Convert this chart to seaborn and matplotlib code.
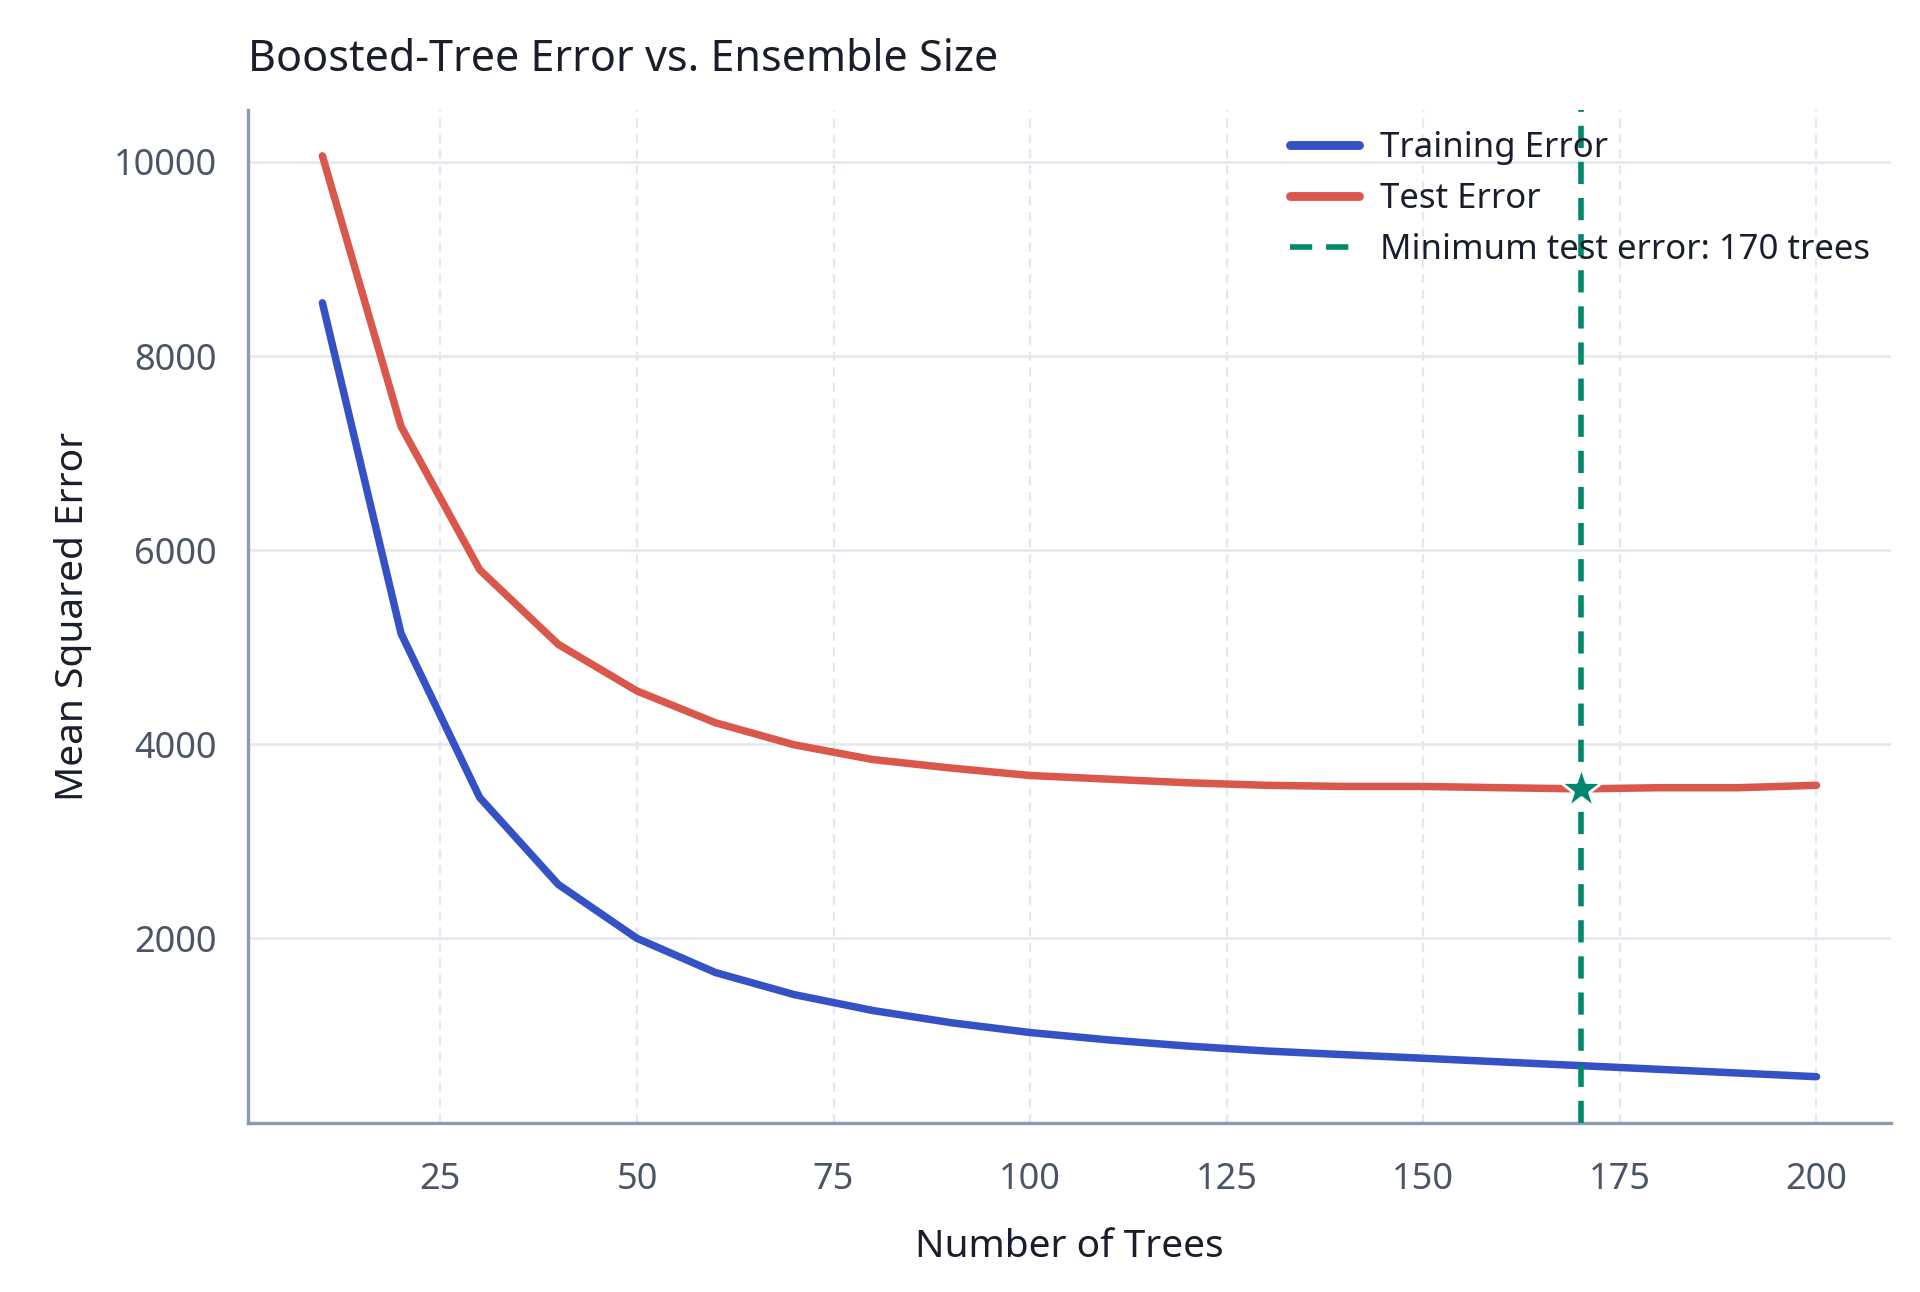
import numpy as np
import pandas as pd
import seaborn as sns
import matplotlib.pyplot as plt

# Datos
n_trees = [10, 20, 30, 40, 50, 60, 70, 80, 90, 100,
           110, 120, 130, 140, 150, 160, 170, 180, 190, 200]
train_error = [8549, 5142, 3451, 2555, 2000, 1647, 1420, 1256, 1130, 1029,
               953, 890, 839, 801, 764, 726, 688, 650, 612, 574]
test_error = [10063, 7275, 5798, 5029, 4549, 4221, 3994, 3842, 3754, 3678,
              3640, 3603, 3577, 3565, 3565, 3552, 3540, 3552, 3552, 3577]
best_trees = 170

df = pd.DataFrame({"trees": n_trees, "train": train_error, "test": test_error})

sns.set_theme(style="white")
plt.rcParams['font.family'] = ['Noto Sans', 'DejaVu Sans']

fig, ax = plt.subplots(figsize=(9.6, 6.46), dpi=200)

sns.lineplot(data=df, x="trees", y="train", ax=ax, color="#3452c6", linewidth=2.7,
             label="Training Error", solid_capstyle="round")
sns.lineplot(data=df, x="trees", y="test", ax=ax, color="#d9584b", linewidth=2.7,
             label="Test Error", solid_capstyle="round")
ax.axvline(best_trees, color="#00876c", linestyle=(0, (4, 2.5)), linewidth=2.0,
           label=f"Minimum test error: {best_trees} trees", zorder=4)
best_err = df.loc[df["trees"] == best_trees, "test"].iloc[0]
ax.plot([best_trees], [best_err], marker="*", markersize=16, color="#00876c",
        markeredgecolor="white", markeredgewidth=1.0, zorder=5)

# Rejilla: horizontal sólida, vertical discontinua
ax.grid(axis="y", color="#e3e7ee", linewidth=0.9)
ax.grid(axis="x", color="#e3e7ee", linewidth=0.8, linestyle=(0, (4, 3)))
ax.set_axisbelow(True)

ax.set_xticks([25, 50, 75, 100, 125, 150, 175, 200])
ax.set_yticks([2000, 4000, 6000, 8000, 10000])

for side in ["top", "right"]:
    ax.spines[side].set_visible(False)
for side in ["left", "bottom"]:
    ax.spines[side].set_color("#8d99b3")
    ax.spines[side].set_linewidth(1.2)

ax.tick_params(axis="x", length=6, width=0.8, color="#4a5060", labelsize=13,
               labelcolor="#4b5567", pad=8)
ax.tick_params(axis="y", length=3, width=1.0, color="#4a5060", labelsize=13,
               labelcolor="#4b5567", pad=8)

ax.set_xlabel("Number of Trees", fontsize=14, color="#1a1d2b", labelpad=11)
ax.set_ylabel("Mean Squared Error", fontsize=14, color="#1a1d2b", labelpad=8)
ax.set_title("Boosted-Tree Error vs. Ensemble Size", loc="left", fontsize=15.5,
             color="#1a1d2b", pad=14)

leg = ax.legend(loc="upper right", frameon=False, fontsize=12.5, handlelength=2.0,
                handletextpad=0.6, borderaxespad=0.2, labelspacing=0.5)
for line in leg.get_lines()[:2]:
    line.set_linewidth(3.2)
    line.set_solid_capstyle("round")
for txt in leg.get_texts():
    txt.set_color("#1a1d2b")

fig.subplots_adjust(left=0.129, right=0.985, top=0.915, bottom=0.131)
fig.savefig("out.png", dpi=200)
